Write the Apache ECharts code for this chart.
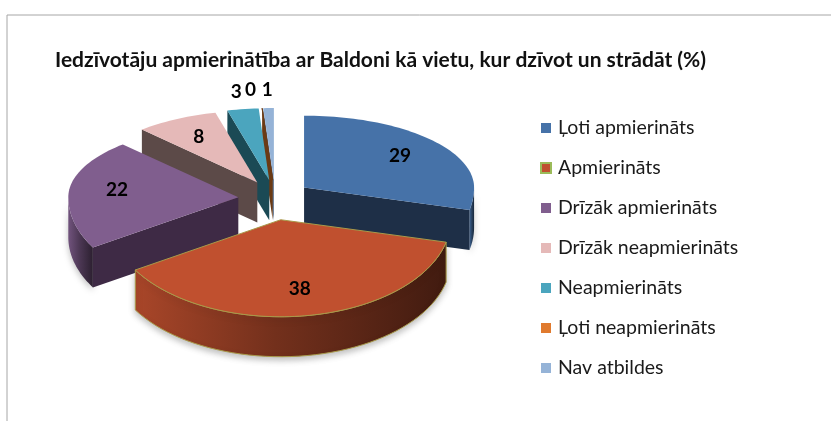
<!DOCTYPE html>
<html>
<head>
<meta charset="utf-8">
<script src="https://cdn.jsdelivr.net/npm/echarts@6/dist/echarts.min.js"></script>
<style>
  html, body { margin: 0; background: #fff; }
  #chart { width: 831px; height: 421px; }
</style>
</head>
<body>
<div id="chart"></div>
<script>
const categories = [
  'Ļoti apmierināts',
  'Apmierināts',
  'Drīzāk apmierināts',
  'Drīzāk neapmierināts',
  'Neapmierināts',
  'Ļoti neapmierināts',
  'Nav atbildes'
];
const values = [29, 38, 22, 8, 3, 0, 1];

const topColors = ['#4672A8', '#C0502F', '#805E8E', '#E5B9B8', '#4BA5BE', '#E07A2E', '#95B3D7'];
const faceColors = ['#1E2F47', '#5A2214', '#3E2A45', '#5C4A48', '#1B4A55', '#6B3A14', '#5D7391'];

// pie geometry in axis units (x: 1 = radius, y: 1 = front radius)
const BACK = 0.742;   // perspective squash of the far half
const WALL = 0.412;   // thickness of the pie
const EX = 0.218, EY = 0.206; // explosion offset
const FONT = 'bold 19px Lato, "Open Sans", sans-serif';

const total = values.reduce((a, b) => a + b, 0);
const starts = [];
values.reduce((acc, v, i) => { starts[i] = acc / total * Math.PI * 2; return acc + v; }, 0);

function shade(hex, k) {
  const c = echarts.color.parse(hex);
  return 'rgb(' + c.slice(0, 3).map(x => Math.round(x * (1 - k))).join(',') + ')';
}

function sliceAngles(i, v) {
  const a0 = starts[i];
  const a1 = a0 + v / total * Math.PI * 2;
  return [a0, a1, (a0 + a1) / 2];
}

function renderSlice(i) {
  return function (params, api) {
    const v = api.value(1);
    const [a0, a1, mid] = sliceAngles(i, v);
    const ox = EX * Math.sin(mid), oy = EY * Math.cos(mid);
    const rim = (t, r) => {
      r = r == null ? 1 : r;
      const c = Math.cos(t);
      return [ox + r * Math.sin(t), oy + r * c * (c > 0 ? BACK : 1)];
    };
    const down = p => [p[0], p[1] - WALL];
    const px = p => api.coord(p);
    const center = [ox, oy];
    const top = topColors[i];
    const edge = i === 1 ? { stroke: '#A89A4A', lineWidth: 1 } : {};
    const children = [];

    // outer curved wall, only the part facing the viewer
    const w0 = Math.max(a0, Math.PI / 2), w1 = Math.min(a1, Math.PI * 1.5);
    if (w1 > w0) {
      const n = 48, up = [], lo = [];
      for (let k = 0; k <= n; k++) {
        const p = rim(w0 + (w1 - w0) * k / n);
        up.push(px(p));
        lo.unshift(px(down(p)));
      }
      children.push({
        type: 'polygon',
        z2: 1,
        shape: { points: up.concat(lo) },
        style: Object.assign({
          fill: new echarts.graphic.LinearGradient(0, 0, 1, 0, [
            { offset: 0, color: shade(top, 0.12) },
            { offset: 0.45, color: shade(top, 0.4) },
            { offset: 1, color: shade(top, 0.66) }
          ]),
          shadowColor: 'rgba(0,0,0,0.25)',
          shadowBlur: 6,
          shadowOffsetY: 3
        }, edge)
      });
    }

    // radial cut faces
    const face = a => ({
      type: 'polygon',
      z2: 2,
      shape: { points: [center, rim(a), down(rim(a)), down(center)].map(px) },
      style: { fill: faceColors[i] }
    });
    if (Math.sin(a0) < -1e-6) children.push(face(a0));
    if (Math.sin(a1) > 1e-6) children.push(face(a1));

    // top face
    const n = Math.max(2, Math.ceil((a1 - a0) / 0.03));
    const pts = [px(center)];
    for (let k = 0; k <= n; k++) pts.push(px(rim(a0 + (a1 - a0) * k / n)));
    children.push({
      type: 'polygon',
      z2: 3,
      shape: { points: pts },
      style: Object.assign({ fill: top }, v === 0 ? { stroke: faceColors[i], lineWidth: 1 } : edge)
    });

    // value label
    let lp, dx = 0;
    if (v >= 5) {
      lp = px(rim(mid, 0.72));
    } else {
      const c = Math.cos(mid);
      lp = px([ox + 1.25 * Math.sin(mid), oy + 1.25 * c * BACK]);
      if (v === 0) dx = -9;
    }
    children.push({
      type: 'text',
      z2: 10,
      x: lp[0] + dx,
      y: lp[1],
      style: { text: String(v), font: FONT, fill: '#000', align: 'center', verticalAlign: 'middle' }
    });

    return { type: 'group', children };
  };
}

// draw far slices first
const depth = categories.map((c, i) => ({ i, d: Math.cos(sliceAngles(i, values[i])[2]) }));
depth.sort((a, b) => b.d - a.d);
const zOf = {};
depth.forEach((o, k) => { zOf[o.i] = 2 + k; });

const series = categories.map((name, i) => ({
  name,
  type: 'custom',
  coordinateSystem: 'cartesian2d',
  clip: false,
  z: zOf[i],
  itemStyle: Object.assign({ color: topColors[i] }, i === 1 ? { borderColor: '#9BBB59', borderWidth: 1 } : {}),
  renderItem: renderSlice(i),
  data: [[i, values[i]]]
}));

const chart = echarts.init(document.getElementById('chart'), null, { renderer: 'canvas' });
chart.setOption({
  animation: false,
  backgroundColor: '#fff',
  graphic: [{
    type: 'rect',
    left: 4.5, top: 12.5,
    shape: { width: 900, height: 500 },
    style: { fill: 'none', stroke: '#A6A6A6', lineWidth: 1 },
    silent: true
  }],
  title: {
    text: 'Iedzīvotāju apmierinātība ar Baldoni kā vietu, kur dzīvot un strādāt (%)',
    left: 55,
    top: 50,
    padding: 0,
    textStyle: { fontFamily: 'Lato', fontWeight: 'bold', fontSize: 21, color: '#111' }
  },
  legend: {
    orient: 'vertical',
    left: 540,
    top: 117,
    icon: 'rect',
    itemWidth: 10,
    itemHeight: 10,
    itemGap: 18,
    padding: 0,
    selectedMode: false,
    textStyle: { fontFamily: 'Lato', fontSize: 19.5, lineHeight: 22, color: '#1a1a1a', padding: [0, 0, 0, 2] },
    data: categories
  },
  grid: { left: 3, top: 6, width: 544, height: 388, containLabel: false },
  xAxis: { type: 'value', min: -1.6, max: 1.6, show: false },
  yAxis: { type: 'value', min: -2, max: 2, show: false },
  series
});
</script>
</body>
</html>
